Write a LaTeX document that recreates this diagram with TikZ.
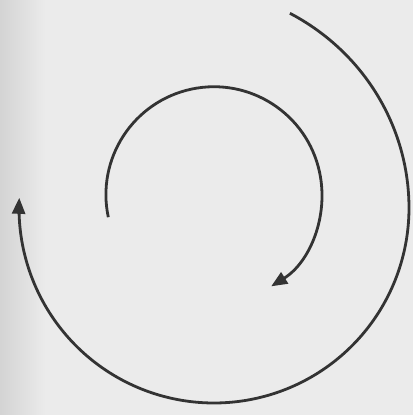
\documentclass[tikz,border=0pt]{standalone}
\usetikzlibrary{arrows.meta}
\begin{document}
\begin{tikzpicture}[x=1pt,y=-1pt,
  spiral/.style={line width=2.8pt,draw=black!80,-{Triangle[length=16pt,width=13pt]}}]
\useasboundingbox (0,0) rectangle (413,415);
\fill[black!8] (0,0) rectangle (413,415);
\shade[left color=black!17,right color=black!8] (0,0) rectangle (45,415);
% inner arc
\draw[spiral] (108.3,217.2) arc[start angle=168,end angle=418,radius=108];
% outer arc
\draw[spiral] plot[domain=-68.7:183,samples=150,variable=\t,smooth]
  ({214+(195+14*(min(\t,0)/68.7)^2)*cos(\t)},{208+(195+14*(min(\t,0)/68.7)^2)*sin(\t)});
\end{tikzpicture}
\end{document}
